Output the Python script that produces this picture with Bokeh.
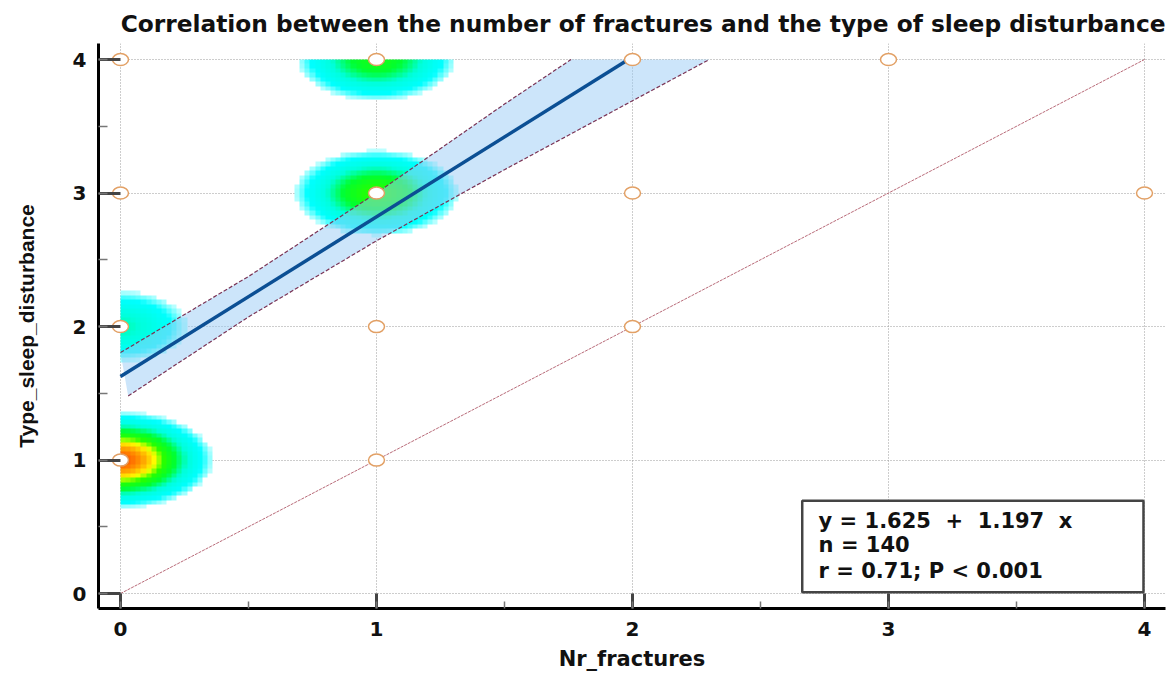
import numpy as np
from bokeh.plotting import figure
from bokeh.models import Range1d, SingleIntervalTicker, Label
from bokeh.embed import file_html
from bokeh.resources import INLINE

# ---------------- data ----------------
title_text = "Correlation between the number of fractures and the type of sleep disturbance"
x_label = "Nr_fractures"
y_label = "Type_sleep_disturbance"

nr_fractures = [0, 0, 0, 0, 1, 1, 1, 1, 2, 2, 2, 3, 4]
sleep_type   = [1, 2, 3, 4, 1, 2, 3, 4, 2, 3, 4, 4, 3]
counts       = [52, 14, 2, 2, 3, 3, 28, 24, 3, 2, 3, 2, 2]

intercept = 1.625
slope = 1.197
n_obs = 140
r_value = 0.71
p_text = "P < 0.001"

band_upper_x = [0.0, 0.5, 1.0, 1.5, 1.76]
band_upper_y = [1.805, 2.375, 3.0, 3.666, 4.0]
band_lower_x = [0.03, 0.5, 1.0, 1.5, 2.0, 2.3]
band_lower_y = [1.48, 2.072, 2.642, 3.175, 3.691, 4.0]

identity_x = [0, 4]
identity_y = [0, 4]

# ---------------- figure ----------------
BOLD_W = "DejaVu Sans"
p = figure(width=1166, height=674,
           x_range=Range1d(-0.0859, 4.082), y_range=Range1d(-0.112, 4.12),
           output_backend="svg", toolbar_location=None,
           min_border_left=98, min_border_right=1, min_border_top=42, min_border_bottom=66)
p.outline_line_color = None
p.background_fill_color = "white"

p.title.text = title_text
p.title.align = "right"
p.title.text_font = BOLD_W
p.title.text_font_style = "bold"
p.title.text_font_size = "23.3px"
p.title.text_color = "#111111"
p.title.standoff = 14

for ax, tick_in, minor_in in ((p.xaxis[0], 15, 7), (p.yaxis[0], 22, 9)):
    ax.ticker = SingleIntervalTicker(interval=1, num_minor_ticks=2)
    ax.axis_line_width = 3
    ax.axis_line_color = "black"
    ax.major_tick_in = tick_in
    ax.major_tick_out = 0
    ax.major_tick_line_width = 3
    ax.major_tick_line_color = "#444444"
    ax.minor_tick_in = minor_in
    ax.minor_tick_out = 0
    ax.minor_tick_line_width = 1.5
    ax.minor_tick_line_color = "#777777"
    ax.major_label_text_font = BOLD_W
    ax.major_label_text_font_style = "bold"
    ax.major_label_text_font_size = "20px"
    ax.major_label_text_color = "#111111"
    ax.axis_label_text_font_style = "bold"
    ax.axis_label_text_color = "#111111"

p.xaxis.axis_label = x_label
p.xaxis.axis_label_text_font = BOLD_W
p.xaxis.axis_label_text_font_size = "21px"
p.xaxis.major_label_standoff = 13
p.xaxis.axis_label_standoff = 8
p.yaxis.axis_label = y_label
p.yaxis.axis_label_text_font = "Liberation Sans"
p.yaxis.axis_label_text_font_size = "21px"
p.yaxis.major_label_standoff = 12
p.yaxis.axis_label_standoff = 32

for g in (p.xgrid[0], p.ygrid[0]):
    g.ticker = SingleIntervalTicker(interval=1)
    g.grid_line_color = "#9a9a9a"
    g.grid_line_dash = "1 2"
    g.grid_line_width = 1

# ---------------- density image ----------------
nx, ny = 200, 120
gx = (np.arange(nx) + 0.5) * 4.0 / nx
gy = (np.arange(ny) + 0.5) * 4.0 / ny
GX, GY = np.meshgrid(gx, gy)
sigma = 0.155
dens = np.zeros_like(GX)
for xv, yv, c in zip(nr_fractures, sleep_type, counts):
    dens += c * np.exp(-((GX - xv) ** 2 + (GY - yv) ** 2) / (2 * sigma ** 2))
dens = dens / 62.0

stops = [0.055, 0.1, 0.2, 0.32, 0.46, 0.58, 0.7, 0.84, 1.0]
reds  = [190, 0, 0, 0, 40, 255, 255, 255, 255]
grns  = [255, 255, 255, 255, 255, 255, 170, 90, 0]
blus  = [255, 255, 220, 50, 0, 0, 0, 0, 0]
R = np.interp(dens, stops, reds).astype(np.uint32)
G = np.interp(dens, stops, grns).astype(np.uint32)
B = np.interp(dens, stops, blus).astype(np.uint32)
A = np.where(dens >= stops[0], 255, 0).astype(np.uint32)
img = (A << 24) | (B << 16) | (G << 8) | R
p.image_rgba(image=[img], x=0, y=0, dw=4, dh=4)

# ---------------- lines ----------------
p.line(identity_x, identity_y, line_color="#b86a78", line_width=1, line_dash="3 1")

band_x = band_upper_x + band_lower_x[::-1]
band_y = band_upper_y + band_lower_y[::-1]
p.patch(band_x, band_y, fill_color="#99ccf5", fill_alpha=0.5, line_color=None)
p.line(band_upper_x, band_upper_y, line_color="#7a3355", line_width=1.2, line_dash="4 2")
p.line(band_lower_x, band_lower_y, line_color="#7a3355", line_width=1.2, line_dash="4 2")

x_end = (4 - intercept) / slope
reg_x = [0, x_end]
reg_y = [intercept + slope * v for v in reg_x]
p.line(reg_x, reg_y, line_color="#0b4f94", line_width=3.5)

p.ellipse(nr_fractures, sleep_type, width=16, height=12,
          width_units="screen", height_units="screen",
          fill_color="white", line_color="#e2a065", line_width=1.5)

# ---------------- stats box ----------------
p.quad(left=[2.663], right=[3.996], bottom=[0.0097], top=[0.695],
       fill_color="white", line_color="#444444", line_width=2.5)
NB = "\u00a0"
lines_txt = [f"y = {intercept:.3f} {NB}+ {NB}{slope:.3f} {NB}x",
             f"n = {n_obs}",
             f"r = {r_value:.2f}; {p_text}"]
for txt, yy in zip(lines_txt, [0.546, 0.366, 0.172]):
    p.add_layout(Label(x=2.727, y=yy, text=txt, text_baseline="middle",
                       text_font=BOLD_W, text_font_style="bold",
                       text_font_size="21px", text_color="#111111"))

open("out.html", "w").write(file_html(p, INLINE))
